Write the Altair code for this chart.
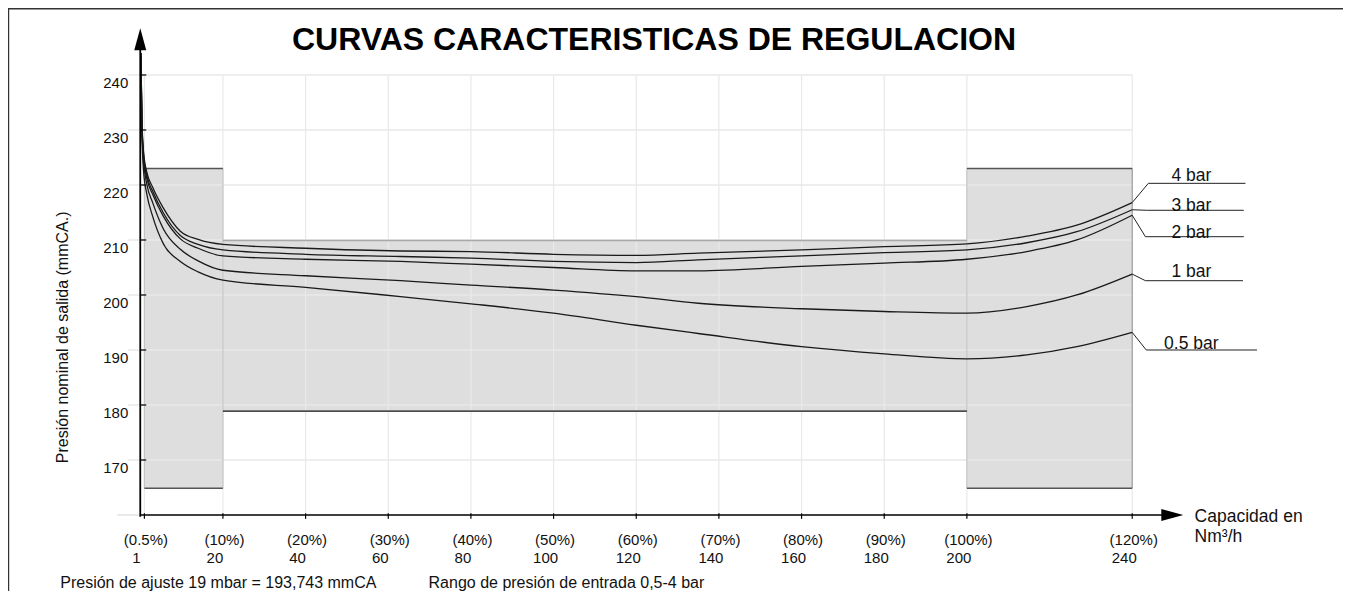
import altair as alt
import pandas as pd

FONT = "Liberation Sans"

# ---------------- data ----------------
cap = [0.15, 0.4, 0.8, 1.6, 3, 5.6, 9.7, 14, 20, 40, 63, 80, 100, 120, 135, 160, 180, 200, 214.5, 226.6, 240]
p4 = [244, 232, 226, 222.3, 219.6, 215.8, 211.6, 210.1, 209.2, 208.5, 208.0, 207.9, 207.4, 207.2, 207.6, 208.2, 208.8, 209.3, 210.7, 212.7, 216.8]
p3 = [244, 231.5, 225.5, 221.7, 218.9, 214.9, 210.8, 209.2, 208.2, 207.4, 207.0, 206.7, 206.1, 205.9, 206.4, 207.1, 207.7, 208.2, 209.5, 211.5, 215.5]
p2 = [244, 231, 225, 221.2, 218.3, 214.3, 210.2, 208.5, 207.1, 206.5, 206.1, 205.6, 205.0, 204.4, 204.4, 205.2, 205.8, 206.5, 207.9, 210.0, 214.5]
p1 = [243.5, 230.5, 224.5, 220.1, 216.8, 212.0, 208.3, 206.2, 204.5, 203.5, 202.6, 201.8, 200.9, 199.7, 198.5, 197.5, 197.0, 196.7, 197.9, 200.0, 203.8]
p05 = [243, 229.5, 222.5, 218.3, 214.3, 209.3, 206.1, 204.2, 202.7, 201.4, 199.7, 198.4, 196.7, 194.5, 193.0, 190.6, 189.3, 188.4, 189.1, 190.6, 193.2]

series = ["4 bar", "3 bar", "2 bar", "1 bar", "0.5 bar"]
curves = [p4, p3, p2, p1, p05]

# leader lines to the series labels
leader_elbow_x = [243.9, 243.5, 243.2, 243.2, 243.4]
leader_y = [220.3, 215.4, 210.6, 202.6, 190.0]
leader_end_x = [267.4, 267.0, 267.0, 266.8, 270.2]
label_x = [254.3, 254.3, 254.3, 254.3, 254.3]
label_y = [220.7, 215.3, 210.4, 203.3, 190.2]

# shaded regulation bands
band_x1 = [1, 20, 200]
band_x2 = [20, 200, 240]
band_y1 = [164.85, 178.9, 164.85]
band_y2 = [223.0, 209.9, 223.0]

x_ticks = [1, 20, 40, 60, 80, 100, 120, 140, 160, 180, 200, 240]
x_pct = ["(0.5%)", "(10%)", "(20%)", "(30%)", "(40%)", "(50%)", "(60%)", "(70%)", "(80%)", "(90%)", "(100%)", "(120%)"]
x_num = ["1", "20", "40", "60", "80", "100", "120", "140", "160", "180", "200", "240"]
y_ticks = [170, 180, 190, 200, 210, 220, 230, 240]

AXIS_Y = 160.0   # value where the x axis line sits
X_MIN, X_MAX = -32, 291
Y_MIN, Y_MAX = 146.18, 252.18

# ---------------- tables ----------------
rows = []
for s, vals in zip(series, curves):
    for i, (xv, yv) in enumerate(zip(cap, vals)):
        rows.append({"s": s, "x": xv, "y": yv, "i": i})
curve_df = pd.DataFrame(rows)

lrows = []
for s, vals, ex, ly, endx in zip(series, curves, leader_elbow_x, leader_y, leader_end_x):
    lrows += [{"s": s, "x": cap[-1], "y": vals[-1], "i": 0},
              {"s": s, "x": ex, "y": ly, "i": 1},
              {"s": s, "x": endx, "y": ly, "i": 2}]
leader_df = pd.DataFrame(lrows)
label_df = pd.DataFrame({"s": series, "x": label_x, "y": label_y})

band_df = pd.DataFrame({"x": band_x1, "x2": band_x2, "y": band_y1, "y2": band_y2})

xs = alt.Scale(domain=[X_MIN, X_MAX], nice=False, zero=False)
ys = alt.Scale(domain=[Y_MIN, Y_MAX], nice=False, zero=False)


def X(f="x"):
    return alt.X(f"{f}:Q", scale=xs, axis=None)


def Y(f="y"):
    return alt.Y(f"{f}:Q", scale=ys, axis=None)


def rules(df, color, width):
    return alt.Chart(df).mark_rule(color=color, strokeWidth=width).encode(
        x=X("x"), x2="x2:Q", y=Y("y"), y2="y2:Q")


# bands
bands = alt.Chart(band_df).mark_rect(fill="#dedede", stroke=None).encode(
    x=X("x"), x2="x2:Q", y=Y("y"), y2="y2:Q")

# grid
hgrid = rules(pd.DataFrame({"x": [-3] * len(y_ticks), "x2": [240] * len(y_ticks),
                            "y": y_ticks, "y2": y_ticks}), "#e9e9e9", 1.5)
vgrid = rules(pd.DataFrame({"x": x_ticks, "x2": x_ticks,
                            "y": [AXIS_Y] * len(x_ticks), "y2": [240] * len(x_ticks)}), "#e9e9e9", 1.2)
axis_ext = rules(pd.DataFrame({"x": [-5.6], "x2": [0], "y": [AXIS_Y], "y2": [AXIS_Y]}), "#dcdcdc", 1.2)

# band edges
dark_edges = rules(pd.DataFrame({
    "x": [band_x1[0], band_x1[0], band_x1[2], band_x1[2]],
    "x2": [band_x2[0], band_x2[0], band_x2[2], band_x2[2]],
    "y": [band_y2[0], band_y1[0], band_y2[2], band_y1[2]],
    "y2": [band_y2[0], band_y1[0], band_y2[2], band_y1[2]]}), "#555555", 1.5)
mid_top = rules(pd.DataFrame({"x": [band_x1[1]], "x2": [band_x2[1]],
                              "y": [band_y2[1]], "y2": [band_y2[1]]}), "#a8a8a8", 1.5)
mid_bottom = rules(pd.DataFrame({"x": [band_x1[1]], "x2": [band_x2[1]],
                                 "y": [band_y1[1]], "y2": [band_y1[1]]}), "#111111", 1.3)
side_edges = rules(pd.DataFrame({"x": [band_x1[0], band_x2[0], band_x1[2]],
                                 "x2": [band_x1[0], band_x2[0], band_x1[2]],
                                 "y": [band_y1[0], band_y1[0], band_y1[2]],
                                 "y2": [band_y2[0], band_y2[0], band_y2[2]]}), "#c4c4c4", 1.2)
right_edge = rules(pd.DataFrame({"x": [band_x2[2]], "x2": [band_x2[2]],
                                 "y": [band_y1[2]], "y2": [band_y2[2]]}), "#9a9a9a", 1.2)

# curves
curve_lines = alt.Chart(curve_df).mark_line(interpolate="monotone", color="#1a1a1a", strokeWidth=1.3).encode(
    x=X("x"), y=Y("y"), detail="s:N", order="i:Q")
leaders = alt.Chart(leader_df).mark_line(color="#222222", strokeWidth=1.0).encode(
    x=X("x"), y=Y("y"), detail="s:N", order="i:Q")
labels = alt.Chart(label_df).mark_text(font=FONT, fontSize=17.5, color="#111111",
                                       align="center", baseline="alphabetic").encode(
    x=X("x"), y=Y("y"), text="s:N")

# axes
y_axis = rules(pd.DataFrame({"x": [0], "x2": [0], "y": [AXIS_Y - 0.3], "y2": [245.0]}), "#000000", 1.8)
x_axis = rules(pd.DataFrame({"x": [0], "x2": [247.2], "y": [AXIS_Y], "y2": [AXIS_Y]}), "#000000", 1.4)
y_tickmarks = rules(pd.DataFrame({"x": [0] * len(y_ticks), "x2": [1.45] * len(y_ticks),
                                  "y": y_ticks, "y2": y_ticks}), "#000000", 1.2)
x_tickmarks = rules(pd.DataFrame({"x": x_ticks, "x2": x_ticks,
                                  "y": [AXIS_Y + 0.3] * len(x_ticks), "y2": [AXIS_Y - 0.7] * len(x_ticks)}),
                    "#000000", 1.2)
up_arrow = alt.Chart(pd.DataFrame({"x": [0], "y": [246.5]})).mark_point(
    shape="M0,-1L0.545,1L-0.545,1Z", size=484, filled=True, color="#000000", opacity=1, strokeWidth=0).encode(
    x=X("x"), y=Y("y"))
right_arrow = alt.Chart(pd.DataFrame({"x": [249.7], "y": [AXIS_Y]})).mark_point(
    shape="M1,0L-1,0.545L-1,-0.545Z", size=484, filled=True, color="#000000", opacity=1, strokeWidth=0).encode(
    x=X("x"), y=Y("y"))

# tick labels
ylab = alt.Chart(pd.DataFrame({"x": [-2.9] * len(y_ticks), "y": y_ticks, "t": [str(v) for v in y_ticks]})).mark_text(
    font=FONT, fontSize=15, align="right", baseline="middle", dy=8, color="#111111").encode(
    x=X("x"), y=Y("y"), text="t:N")
xpct = alt.Chart(pd.DataFrame({"x": x_ticks, "y": [155.45] * len(x_ticks), "t": x_pct})).mark_text(
    font=FONT, fontSize=15, align="center", baseline="middle", dx=1.5, color="#111111").encode(
    x=X("x"), y=Y("y"), text="t:N")
xnum = alt.Chart(pd.DataFrame({"x": x_ticks, "y": [152.2] * len(x_ticks), "t": x_num})).mark_text(
    font=FONT, fontSize=15, align="center", baseline="middle", dx=-8, color="#111111").encode(
    x=X("x"), y=Y("y"), text="t:N")

# titles and notes
title = alt.Chart(pd.DataFrame({"x": [124.3], "y": [246.4], "t": ["CURVAS CARACTERISTICAS DE REGULACION"]})).mark_text(
    font=FONT, fontSize=32, fontWeight="bold", align="center", baseline="middle", color="#000000").encode(
    x=X("x"), y=Y("y"), text="t:N")
ytitle = alt.Chart(pd.DataFrame({"x": [-18.6], "y": [192.3], "t": ["Presión nominal de salida (mmCA.)"]})).mark_text(
    font=FONT, fontSize=16, angle=270, align="center", baseline="middle", color="#111111").encode(
    x=X("x"), y=Y("y"), text="t:N")
xtitle = alt.Chart(pd.DataFrame({"x": [255.1, 255.1], "y": [159.7, 156.05], "t": ["Capacidad en", "Nm³/h"]})).mark_text(
    font=FONT, fontSize=17.5, align="left", baseline="middle", color="#111111").encode(
    x=X("x"), y=Y("y"), text="t:N")
notes = alt.Chart(pd.DataFrame({"x": [-19.36, 69.75], "y": [147.7, 147.7],
                                "t": ["Presión de ajuste 19 mbar = 193,743 mmCA",
                                      "Rango de presión de entrada 0,5-4 bar"]})).mark_text(
    font=FONT, fontSize=16, align="left", baseline="middle", color="#111111").encode(
    x=X("x"), y=Y("y"), text="t:N")

# frame (top and left border)
frame = rules(pd.DataFrame({"x": [X_MIN, X_MIN + 0.1], "x2": [X_MAX, X_MIN + 0.1],
                            "y": [Y_MAX - 0.12, Y_MIN], "y2": [Y_MAX - 0.12, Y_MAX]}), "#333333", 1.6)

chart = alt.layer(
    bands, hgrid, vgrid, axis_ext, side_edges, right_edge, dark_edges, mid_top, mid_bottom,
    curve_lines, leaders, labels,
    y_axis, x_axis, y_tickmarks, x_tickmarks, up_arrow, right_arrow,
    ylab, xpct, xnum, title, ytitle, xtitle, notes, frame
).properties(
    width=1335, height=583, padding=0,
    autosize=alt.AutoSizeParams(type="none"),
    background="white"
).configure_view(stroke=None)

chart.save("out.html", embed_options={"renderer": "svg", "actions": False})
